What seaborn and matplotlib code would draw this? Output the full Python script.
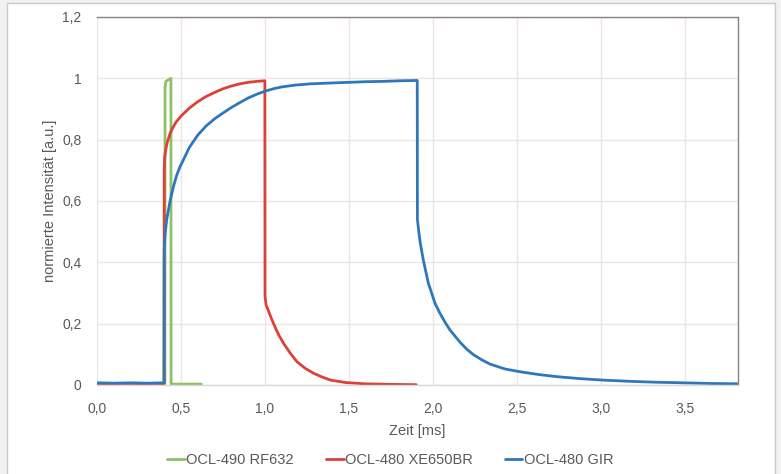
import matplotlib
matplotlib.use("Agg")
import matplotlib.pyplot as plt
from matplotlib.patches import Rectangle
import seaborn as sns
import pandas as pd

# ---- data ----
series_names = ["OCL-490 RF632", "OCL-480 XE650BR", "OCL-480 GIR"]
series_colors = ["#8cc265", "#dc4137", "#2f77bb"]

green_t = [0.00, 0.20, 0.404, 0.405, 0.41, 0.425, 0.44, 0.441, 0.50, 0.62]
green_v = [0.005, 0.005, 0.005, 0.97, 0.99, 0.995, 1.00, 0.003, 0.003, 0.003]

red_t = [0.00, 0.20, 0.399, 0.400, 0.403, 0.41, 0.42, 0.435, 0.45, 0.47, 0.50, 0.55,
         0.60, 0.65, 0.70, 0.75, 0.80, 0.85, 0.90, 0.95, 0.999, 1.000, 1.006, 1.03,
         1.05, 1.08, 1.11, 1.15, 1.19, 1.24, 1.29, 1.34, 1.39, 1.48, 1.59, 1.75, 1.90]
red_v = [0.005, 0.005, 0.005, 0.70, 0.745, 0.77, 0.795, 0.82, 0.838, 0.857, 0.877, 0.903,
         0.924, 0.941, 0.954, 0.966, 0.975, 0.982, 0.987, 0.990, 0.992, 0.29, 0.262, 0.228,
         0.201, 0.165, 0.136, 0.104, 0.076, 0.054, 0.038, 0.026, 0.016, 0.008, 0.004,
         0.002, 0.001]

blue_t = [0.00, 0.10, 0.20, 0.30, 0.399, 0.400, 0.405, 0.415, 0.435, 0.455, 0.475, 0.495,
          0.515, 0.55, 0.60, 0.65, 0.70, 0.75, 0.80, 0.85, 0.90, 0.95, 1.00, 1.05, 1.10,
          1.18, 1.27, 1.40, 1.50, 1.60, 1.70, 1.80, 1.906, 1.907, 1.915, 1.925, 1.942,
          1.972, 2.012, 2.04, 2.071, 2.10, 2.16, 2.20, 2.24, 2.29, 2.34, 2.43, 2.52, 2.63,
          2.74, 2.87, 3.01, 3.17, 3.33, 3.50, 3.65, 3.81]
blue_v = [0.007, 0.006, 0.007, 0.006, 0.007, 0.44, 0.49, 0.54, 0.60, 0.647, 0.685, 0.713,
          0.735, 0.775, 0.815, 0.845, 0.868, 0.887, 0.905, 0.921, 0.936, 0.948, 0.958,
          0.966, 0.972, 0.978, 0.982, 0.985, 0.987, 0.989, 0.990, 0.992, 0.993, 0.54, 0.50,
          0.46, 0.408, 0.332, 0.266, 0.235, 0.205, 0.18, 0.14, 0.117, 0.099, 0.082, 0.068,
          0.052, 0.043, 0.034, 0.027, 0.021, 0.016, 0.012, 0.009, 0.007, 0.005, 0.004]

x_ticks = [0.0, 0.5, 1.0, 1.5, 2.0, 2.5, 3.0, 3.5]
x_tick_labels = ["0,0", "0,5", "1,0", "1,5", "2,0", "2,5", "3,0", "3,5"]
y_ticks = [0.0, 0.2, 0.4, 0.6, 0.8, 1.0, 1.2]
y_tick_labels = ["0", "0,2", "0,4", "0,6", "0,8", "1", "1,2"]

frames = []
for name, t, v in zip(series_names, [green_t, red_t, blue_t], [green_v, red_v, blue_v]):
    d = pd.DataFrame({"t": t, "v": v})
    d["series"] = name
    frames.append(d)
df = pd.concat(frames, ignore_index=True)

sns.set_theme(style="white")
plt.rcParams["font.family"] = ["Liberation Sans", "DejaVu Sans"]

text_col = "#595959"
grid_col = "#ebe6e3"

fig = plt.figure(figsize=(7.81, 4.74), dpi=100)
fig.patch.set_facecolor("#f1f1f1")
bg = Rectangle((7 / 781, -0.02), 768 / 781, 1.02 - 3 / 474,
               transform=fig.transFigure, facecolor="white",
               edgecolor="#c9c9c9", linewidth=1.0, zorder=-10)
fig.add_artist(bg)

ax = fig.add_axes([97 / 781, 1 - 385 / 474, (738 - 97) / 781, (385 - 17) / 474])
ax.set_zorder(5)
ax.set_facecolor("white")

sns.lineplot(data=df, x="t", y="v", hue="series", hue_order=series_names,
             palette=series_colors, estimator=None, sort=False, units="series",
             linewidth=2.0, ax=ax, legend=True)

ax.set_xlim(0, 3.815)
ax.set_ylim(0, 1.2)
ax.set_xticks(x_ticks)
ax.set_xticklabels(x_tick_labels)
ax.set_yticks(y_ticks)
ax.set_yticklabels(y_tick_labels)
ax.tick_params(axis="both", length=0, labelsize=10, colors=text_col)
ax.tick_params(axis="x", pad=12)
ax.tick_params(axis="y", pad=11)
ax.grid(True, color=grid_col, linewidth=1.0)
ax.set_axisbelow(True)

for side in ["top", "right"]:
    ax.spines[side].set_color("#8d817c")
    ax.spines[side].set_linewidth(1.0)
ax.spines["left"].set_visible(False)
ax.spines["bottom"].set_color("#d9d9d9")
ax.spines["bottom"].set_linewidth(1.0)

ax.set_xlabel("Zeit [ms]", fontsize=10.5, color=text_col, labelpad=6)
ax.set_ylabel("normierte Intensität [a.u.]", fontsize=10.5, color=text_col, labelpad=4)

handles, labels = ax.get_legend_handles_labels()
ax.legend_.remove()
leg = fig.legend(handles, labels, loc="center", bbox_to_anchor=(0.5, 1 - 460 / 474),
                 ncol=3, frameon=False, fontsize=10.5, handlelength=1.2, handletextpad=0.1,
                 columnspacing=2.2, labelcolor=text_col)
leg.set_zorder(6)

fig.savefig("out.png", dpi=100, facecolor=fig.get_facecolor())
